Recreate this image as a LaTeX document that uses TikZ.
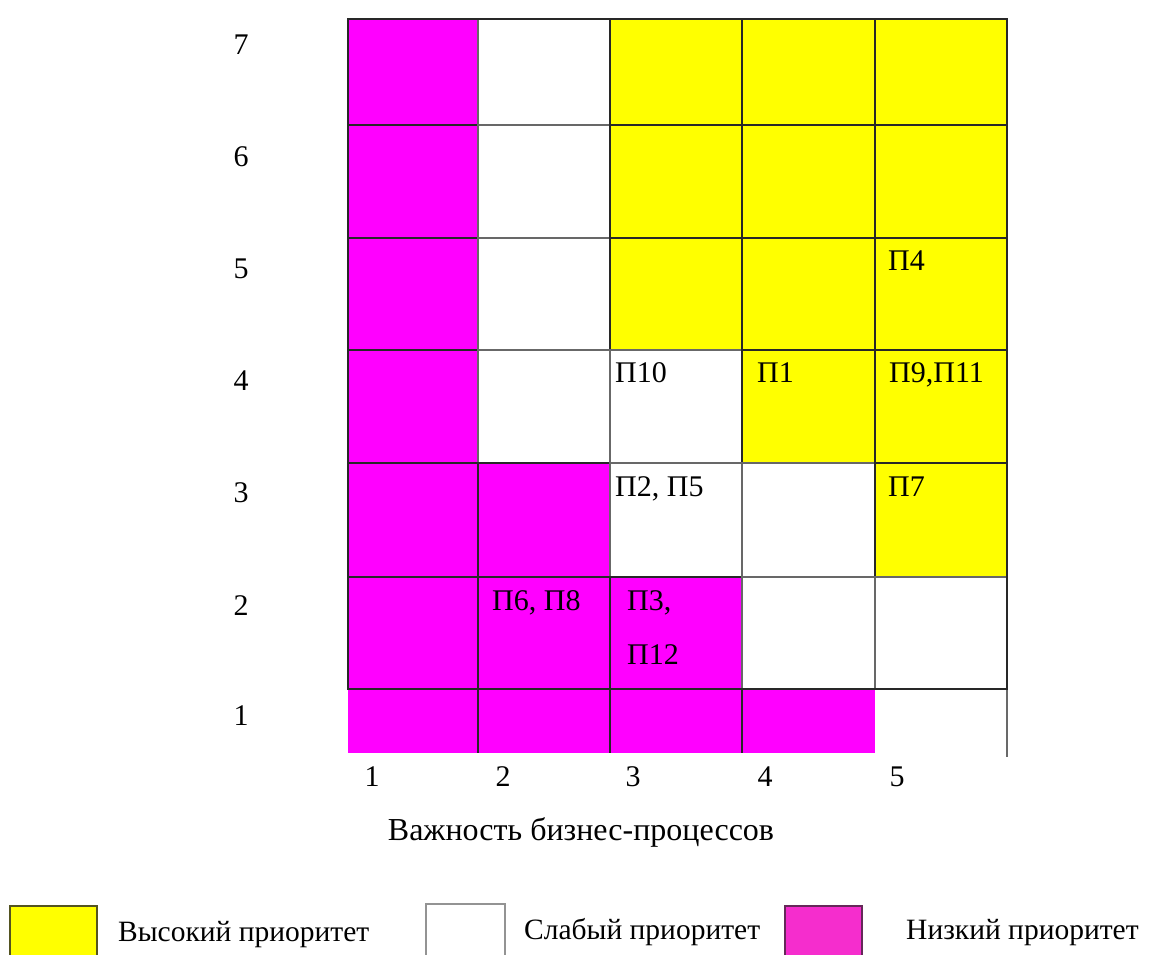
\documentclass[tikz,border=0pt]{standalone}
\usepackage{fontspec}
\setmainfont{Liberation Serif}
\definecolor{hiY}{RGB}{255,255,0}
\definecolor{loM}{RGB}{255,0,255}
\definecolor{lgM}{RGB}{245,45,205}
\definecolor{grid}{RGB}{40,40,40}
\begin{document}
\begin{tikzpicture}[x=1pt,y=-1pt,
  cellY/.style={fill=hiY,draw=grid,line width=1.6pt},
  cellW/.style={fill=white,draw=grid!70,line width=1.6pt},
  cellM/.style={fill=loM,draw=grid,line width=1.6pt},
  axlab/.style={font=\fontsize{30}{34}\selectfont,inner sep=0pt},
  titletxt/.style={font=\fontsize{32}{36}\selectfont,inner sep=0pt,anchor=base},
  celltxt/.style={font=\fontsize{30}{34}\selectfont,anchor=base west,inner sep=0pt},
  legtxt/.style={font=\fontsize{29.5}{34}\selectfont,anchor=base west,inner sep=0pt}]
\useasboundingbox (0,0) rectangle (1162,954);
% Row 7
\draw[cellM] (348,19) rectangle (478,125);
\draw[cellW] (478,19) rectangle (610,125);
\draw[cellY] (610,19) rectangle (742,125);
\draw[cellY] (742,19) rectangle (875,125);
\draw[cellY] (875,19) rectangle (1007,125);
% Row 6
\draw[cellM] (348,125) rectangle (478,238);
\draw[cellW] (478,125) rectangle (610,238);
\draw[cellY] (610,125) rectangle (742,238);
\draw[cellY] (742,125) rectangle (875,238);
\draw[cellY] (875,125) rectangle (1007,238);
% Row 5
\draw[cellM] (348,238) rectangle (478,350);
\draw[cellW] (478,238) rectangle (610,350);
\draw[cellY] (610,238) rectangle (742,350);
\draw[cellY] (742,238) rectangle (875,350);
\draw[cellY] (875,238) rectangle (1007,350);
% Row 4
\draw[cellM] (348,350) rectangle (478,463);
\draw[cellW] (478,350) rectangle (610,463);
\draw[cellW] (610,350) rectangle (742,463);
\draw[cellY] (742,350) rectangle (875,463);
\draw[cellY] (875,350) rectangle (1007,463);
% Row 3
\draw[cellM] (348,463) rectangle (478,577);
\draw[cellM] (478,463) rectangle (610,577);
\draw[cellW] (610,463) rectangle (742,577);
\draw[cellW] (742,463) rectangle (875,577);
\draw[cellY] (875,463) rectangle (1007,577);
% Row 2
\draw[cellM] (348,577) rectangle (478,689);
\draw[cellM] (478,577) rectangle (610,689);
\draw[cellM] (610,577) rectangle (742,689);
\draw[cellW] (742,577) rectangle (875,689);
\draw[cellW] (875,577) rectangle (1007,689);
% Row 1
\fill[loM] (348,689) rectangle (875,753);
\draw[grid,line width=1.6pt] (478,689) -- (478,753) (610,689) -- (610,753) (742,689) -- (742,753);
\draw[grid,line width=1.6pt] (348,689) -- (875,689);
\draw[grid!70,line width=1.6pt] (1007,689) -- (1007,757);
\draw[grid,line width=1.6pt] (348,19) rectangle (1007,689);
% cell texts
\node[celltxt] (p4) at (888,270) {П4};
\node[celltxt] (p10) at (615,382) {П10};
\node[celltxt] (p1) at (757,382) {П1};
\node[celltxt] (p911) at (889,382) {П9,П11};
\node[celltxt] (p25) at (615,496) {П2, П5};
\node[celltxt] (p7) at (888,496) {П7};
\node[celltxt] (p68) at (492,610) {П6, П8};
\node[celltxt] (p3) at (627,610) {П3,};
\node[celltxt] (p12) at (627,664) {П12};
% row labels
\node[axlab] (r7) at (241,45) {7};
\node[axlab] (r6) at (241,157) {6};
\node[axlab] (r5) at (241,269) {5};
\node[axlab] (r4) at (241,381) {4};
\node[axlab] (r3) at (241,493) {3};
\node[axlab] (r2) at (241,606) {2};
\node[axlab] (r1) at (241,716) {1};
% column labels
\node[axlab] (c1) at (372,777) {1};
\node[axlab] (c2) at (503,777) {2};
\node[axlab] (c3) at (633,777) {3};
\node[axlab] (c4) at (765,777) {4};
\node[axlab] (c5) at (897,777) {5};
\node[titletxt] (xt) at (581,840) {Важность бизнес-процессов};
% legend
\draw[fill=hiY,draw=grid!80!hiY,line width=1.2pt] (10,906) rectangle (97,960);
\draw[fill=white,draw=grid!50,line width=1.2pt] (426,904) rectangle (505,960);
\draw[fill=lgM,draw=grid!70!lgM,line width=1.2pt] (785,906) rectangle (862,960);
\node[legtxt] (l1) at (118,941) {Высокий приоритет};
\node[legtxt] (l2) at (524,939) {Слабый приоритет};
\node[legtxt] (l3) at (906,939) {Низкий приоритет};
\end{tikzpicture}
\end{document}
